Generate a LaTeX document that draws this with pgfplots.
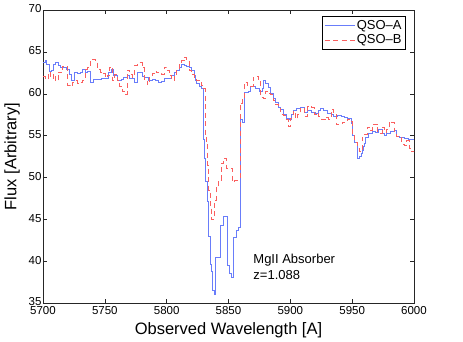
\documentclass[border=0pt]{standalone}
\usepackage{fontspec}
\setmainfont{Liberation Sans}
\usepackage{pgfplots}
\pgfplotsset{compat=1.18}
\usepackage{pgfplotstable}

% QSO-A spectrum (stairs)
\pgfplotstableread{
x y
5700 63.8
5702 64.0
5703 63.5
5705 62.7
5707 62.8
5708 63.5
5710 63.8
5712 63.4
5714 63.2
5717 63.1
5719 62.9
5721 62.3
5723 61.6
5725 62.6
5728 62.4
5730 62.6
5732 62.9
5734 62.5
5736 62.7
5738 61.4
5741 61.7
5744 61.7
5747 61.8
5750 61.9
5753 62.6
5755 62.9
5757 62.2
5760 61.6
5763 61.7
5765 62.0
5768 62.2
5770 61.9
5772 61.8
5774 61.4
5776 62.6
5778 62.6
5780 62.1
5782 62.0
5785 61.6
5788 61.7
5791 61.6
5793 61.4
5796 61.5
5798 61.8
5800 61.8
5802 61.9
5804 62.2
5806 62.6
5808 62.8
5810 63.2
5812 63.5
5814 63.4
5816 63.3
5818 63.1
5820 62.8
5822 62.2
5823 61.6
5824 61.3
5826 60.9
5828 60.6
5829.5 54.5
5830.5 52.3
5831.5 49.5
5833 47.2
5834 43.0
5835 39.6
5836 38.8
5837 36.5
5838.5 36.0
5839.5 40.5
5843 44.3
5846 45.3
5849 39.5
5850.5 38.5
5852 38.1
5854 42.9
5856 43.7
5858 44.0
5859.5 56.9
5861 56.6
5863 60.2
5866 60.3
5868 60.9
5872 60.7
5875 60.3
5877 60.6
5878 61.6
5880 61.3
5882 60.8
5883.5 60.1
5886 59.4
5888 59.0
5890 58.4
5892 58.1
5894 57.5
5897 57.1
5899 56.9
5901 57.5
5902 58.0
5905 58.2
5908 58.4
5911 57.8
5914 58.0
5917 57.8
5920 57.7
5923 58.0
5924 58.2
5927 58.0
5930 57.7
5933 57.5
5935 57.3
5938 57.4
5941 57.3
5944 57.2
5946 57.1
5949 56.5
5950.5 55.0
5952 54.2
5954 52.3
5956 52.5
5957 52.9
5958 53.3
5959 53.7
5960 54.1
5961 54.8
5963 55.3
5966 55.5
5969 55.4
5971 55.7
5974 55.3
5976 55.0
5978 55.3
5981 55.5
5984 55.6
5986 54.9
5988 54.8
5992 54.7
5995 54.6
6000 54.6
}\qsoa

% QSO-B spectrum (stairs)
\pgfplotstableread{
x y
5700 62.1
5702 61.7
5704 62.5
5706 61.8
5708 62.3
5710 61.5
5712 62.6
5714 62.5
5716 63.3
5718 63.3
5720 61.0
5722 60.9
5724 61.4
5726 61.6
5728 61.3
5730 61.4
5732 61.6
5734 62.9
5736 63.2
5738 63.9
5740 64.1
5742 64.0
5744 62.9
5746 62.6
5748 62.4
5750 61.9
5752 62.2
5754 63.2
5756 61.6
5758 62.3
5760 61.6
5762 60.9
5764 60.3
5766 59.9
5768 62.8
5770 62.3
5772 62.0
5774 63.4
5776 63.5
5778 63.7
5780 63.1
5782 61.6
5784 61.1
5786 62.0
5788 62.4
5790 62.7
5792 62.5
5794 62.4
5796 62.3
5798 63.2
5800 62.8
5802 62.2
5804 61.6
5806 62.2
5808 63.0
5810 63.7
5812 64.0
5814 64.4
5816 63.9
5818 62.8
5820 62.3
5822 62.0
5824 61.6
5826 61.4
5828 61.0
5830 60.6
5831 55.1
5832 54.0
5833 51.5
5834 48.5
5835 46.5
5836 45.0
5838.5 47.3
5840 48.9
5842 49.7
5844 51.7
5846 52.3
5848 51.1
5850 51.1
5853 49.5
5855 49.6
5857 49.7
5859.5 58.9
5861 59.4
5863 61.4
5865 61.0
5867 60.9
5870 62.0
5872 62.1
5874 61.7
5876 59.6
5878 59.5
5880 60.3
5882 60.1
5884 59.9
5886 59.2
5888 58.7
5890 58.3
5892 57.5
5894 57.4
5896 57.0
5898 56.1
5900 57.1
5902 57.9
5904 57.0
5906 57.5
5908 58.3
5911 57.3
5914 58.5
5917 58.4
5919 57.5
5921 57.7
5923 57.3
5925 56.9
5928 57.2
5931 57.0
5933 58.1
5935 57.5
5937 56.3
5940 56.3
5942 56.6
5944 56.8
5946 57.0
5948 56.7
5950 55.3
5952 54.2
5954 53.5
5956 53.1
5958 54.8
5960 55.2
5962 56.0
5964 55.6
5966 56.3
5968 56.4
5970 55.5
5972 55.3
5974 56.0
5976 55.4
5978 55.8
5980 56.7
5982 56.6
5984 55.5
5986 54.9
5988 54.8
5990 54.0
5992 53.8
5994 54.4
5996 53.5
5998 53.1
6000 53.0
}\qsob

\definecolor{qsoblue}{RGB}{105,125,250}
\definecolor{qsored}{RGB}{250,95,95}

\begin{document}
\begin{tikzpicture}
\useasboundingbox (-43pt,-38pt) rectangle (420pt,303pt);
\begin{axis}[
    scale only axis,
    width=371pt, height=293pt,
    xmin=5700, xmax=6000, ymin=35, ymax=70,
    xtick={5700,5750,...,6000},
    ytick={35,40,...,70},
    tick align=inside,
    major tick length=4pt,
    axis line style={black!85},
    every tick/.style={black!85},
    /pgf/number format/1000 sep={},
    /pgf/number format/assume math mode=true,
    ticklabel style={font=\fontsize{11.5}{13}\selectfont},
    xticklabel style={yshift=0pt},
    yticklabel style={xshift=2pt, yshift=1pt},
    xlabel={Observed Wavelength [A]},
    ylabel={Flux [Arbitrary]},
    every axis x label/.style={at={(axis description cs:0.5,0)}, anchor=center,
        yshift=-27pt, font=\fontsize{16.5}{18}\selectfont},
    every axis y label/.style={at={([xshift=-31pt]axis description cs:0,0.5)},
        anchor=center, rotate=90, font=\fontsize{16.5}{18}\selectfont},
    legend style={at={(0.978,0.98)}, anchor=north east, draw=black,
        font=\fontsize{13}{15}\selectfont, inner sep=2pt, row sep=0pt,
        cells={anchor=west}},
    legend image code/.code={\draw[#1] (0pt,0pt) -- (30pt,0pt);},
]
\addplot[const plot, color=qsoblue, line width=0.6pt] table[x=x,y=y] {\qsoa};
\addlegendentry{QSO--A}
\addplot[const plot, color=qsored, line width=0.6pt, dash pattern=on 5pt off 3.5pt] table[x=x,y=y] {\qsob};
\addlegendentry{QSO--B}
\node[anchor=north west, align=left, font=\fontsize{13}{16}\selectfont, inner sep=0pt]
    at (axis cs:5870,40.9) {MgII Absorber\\z=1.088};
\end{axis}
\end{tikzpicture}
\end{document}
